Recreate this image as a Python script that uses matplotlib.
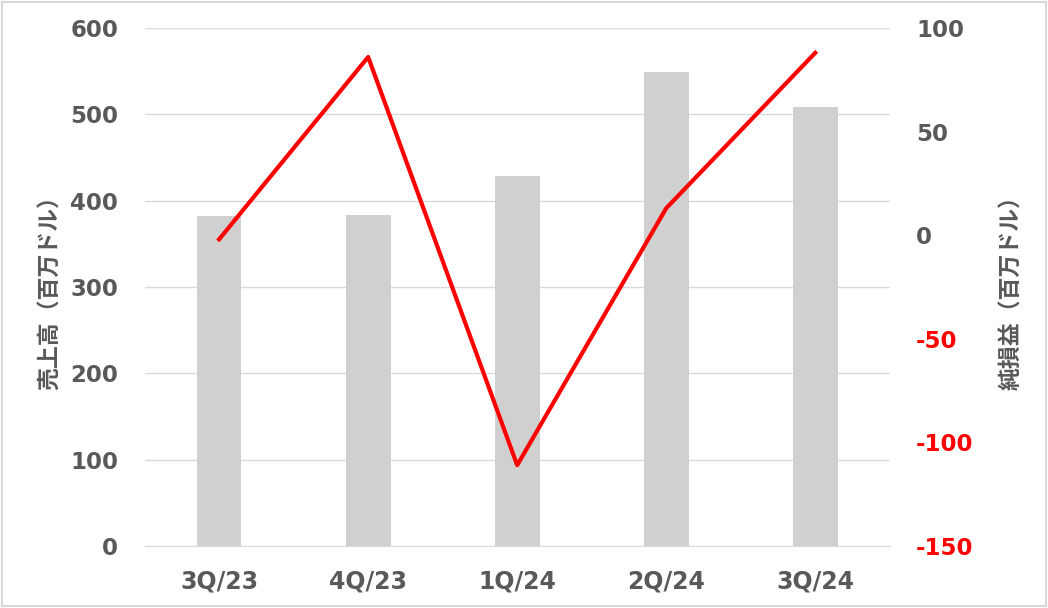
import matplotlib
matplotlib.use("Agg")
import matplotlib.pyplot as plt
from matplotlib.patches import Rectangle

quarters = ["3Q/23", "4Q/23", "1Q/24", "2Q/24", "3Q/24"]
revenue = [382, 383, 428, 549, 508]
net_income = [-2, 86, -111, 13, 88]

left_ticks = [0, 100, 200, 300, 400, 500, 600]
right_ticks = [-150, -100, -50, 0, 50, 100]

TEXT = "#595959"
GRID = "#d9d9d9"
BAR = "#d0d0d0"
RED = "#ff0000"

plt.rcParams["font.family"] = ["DejaVu Sans", "Noto Sans CJK JP"]
plt.rcParams["axes.unicode_minus"] = False

fig = plt.figure(figsize=(10.48, 6.08), dpi=100)
ax = fig.add_axes([0.138, 0.102, 0.711, 0.852])
x = list(range(len(quarters)))

ax.bar(x, revenue, width=0.3, color=BAR, zorder=2)
ax.set_ylim(0, 600)
ax.set_xlim(-0.5, len(quarters) - 0.5)
ax.set_yticks(left_ticks)
ax.set_xticks(x)
ax.set_xticklabels(quarters)
ax.grid(axis="y", color=GRID, linewidth=1, zorder=0)
for side in ["top", "right", "left"]:
    ax.spines[side].set_visible(False)
ax.spines["bottom"].set_color(GRID)
ax.tick_params(axis="both", length=0, colors=TEXT)
ax.tick_params(axis="y", pad=19, labelsize=16.5)
ax.tick_params(axis="x", pad=17, labelsize=17)
for lbl in ax.get_yticklabels() + ax.get_xticklabels():
    lbl.set_fontweight("bold")
ax.set_ylabel("売上高（百万ドル）", family=["Noto Sans CJK JP", "DejaVu Sans"],
              fontsize=16.5, fontweight="bold", color=TEXT, labelpad=6)

ax2 = ax.twinx()
ax2.plot(x, net_income, color=RED, linewidth=3, zorder=3)
ax2.set_ylim(-150, 100)
ax2.set_yticks(right_ticks)
for side in ["top", "right", "left", "bottom"]:
    ax2.spines[side].set_visible(False)
ax2.tick_params(axis="y", length=0, labelsize=16.5, pad=19)
for lbl, val in zip(ax2.get_yticklabels(), right_ticks):
    lbl.set_fontweight("bold")
    lbl.set_color(RED if val < 0 else TEXT)
ax2.set_ylabel("純損益（百万ドル）", family=["Noto Sans CJK JP", "DejaVu Sans"],
               fontsize=16.5, fontweight="bold", color=TEXT, labelpad=19)

fig.patches.append(Rectangle((0.002, 0.003), 0.996, 0.994, transform=fig.transFigure,
                             fill=False, edgecolor=GRID, linewidth=1.5))

fig.savefig("out.png", dpi=100)
